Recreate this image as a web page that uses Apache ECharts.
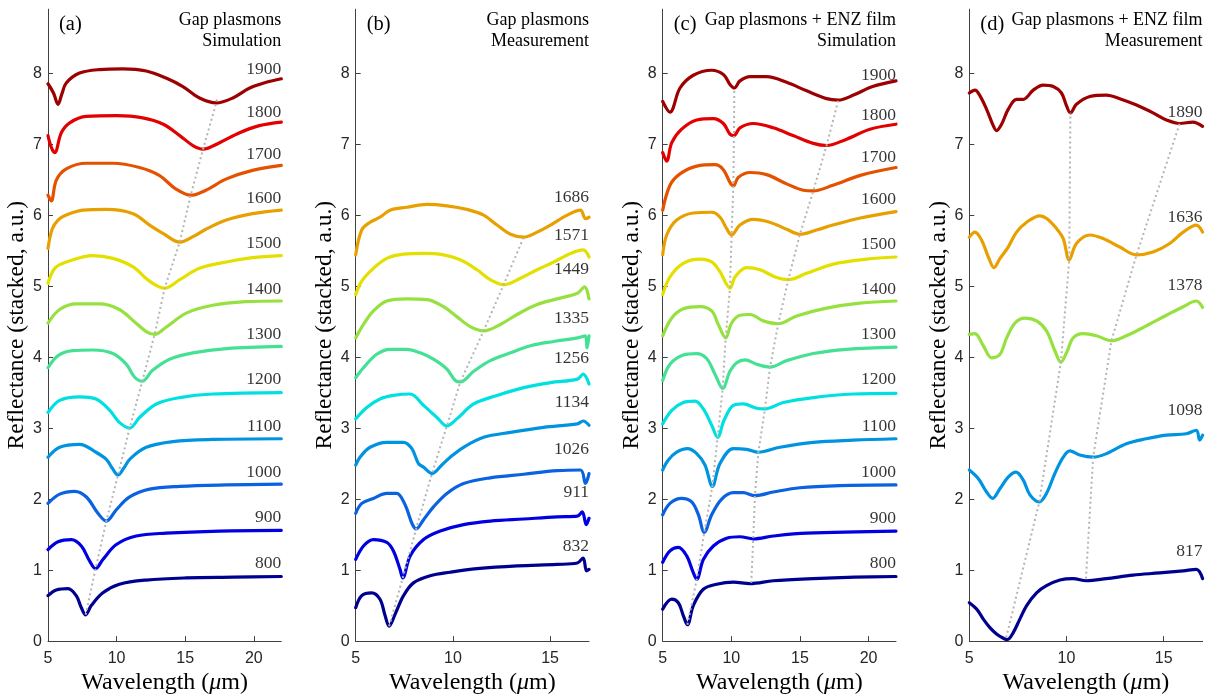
<!DOCTYPE html>
<html>
<head>
<meta charset="utf-8">
<script src="https://cdn.jsdelivr.net/npm/echarts@6.0.0/dist/echarts.min.js"></script>
<style>
  html, body { margin: 0; background: #fff; }
  #chart { width: 1211px; height: 700px; }
</style>
</head>
<body>
<div id="chart"></div>
<script>
// tick values
const yTicks = [0, 1, 2, 3, 4, 5, 6, 7, 8];
const xTicksWide = [5, 10, 15, 20];
const xTicksNarrow = [5, 10, 15];

// colour per row (800 ... 1900)
const rowColors = ['#000090', '#0000e0', '#0a62e0', '#0094e0', '#00e0e0', '#44e094',
  '#96e040', '#e3e000', '#e8a000', '#e45200', '#e30000', '#9c0000'];

// (a) gap plasmons, simulation
const a800 = [[5,0.64],[5.6,0.72],[6.46,0.74],[7.06,0.64],[7.43,0.47],[7.74,0.37],[8.15,0.5],[9.0,0.68],[10.2,0.8],[12.16,0.86],[15.07,0.89],[18.5,0.9],[22,0.91]];
const a900 = [[5,1.29],[5.73,1.4],[6.7,1.43],[7.43,1.34],[8.03,1.13],[8.47,1.02],[9.0,1.15],[9.98,1.36],[11.43,1.48],[13.6,1.52],[17.5,1.55],[22,1.56]];
const a1000 = [[5,1.94],[5.85,2.07],[6.94,2.11],[7.8,2.03],[8.64,1.8],[9.25,1.69],[9.98,1.85],[10.95,2.03],[12.4,2.14],[14.6,2.18],[18,2.2],[22,2.21]];
const a1100 = [[5,2.59],[5.85,2.73],[7.3,2.77],[8.5,2.66],[9.25,2.56],[9.7,2.43],[10.1,2.34],[10.5,2.43],[11.0,2.57],[12.16,2.73],[14.1,2.81],[17,2.84],[22,2.85]];
const a1200 = [[5,3.22],[5.85,3.39],[7.3,3.44],[8.5,3.41],[9.5,3.25],[10.2,3.08],[10.95,3.0],[11.67,3.15],[12.9,3.34],[14.6,3.43],[17,3.48],[22,3.5]];
const a1300 = [[5,3.85],[5.73,4.02],[6.8,4.09],[8.28,4.1],[9.73,4.05],[10.7,3.9],[11.3,3.72],[11.87,3.66],[12.6,3.81],[13.86,3.97],[15.56,4.06],[18,4.12],[22,4.15]];
const a1400 = [[5,4.48],[5.85,4.67],[7.06,4.75],[8.76,4.75],[10.2,4.67],[11.4,4.48],[12.16,4.36],[12.77,4.32],[13.6,4.42],[15.07,4.62],[17,4.73],[19.4,4.78],[22,4.79]];
const a1500 = [[5,5.04],[5.49,5.25],[6.33,5.34],[8.28,5.43],[9.73,5.39],[11.2,5.27],[12.4,5.07],[13.5,4.97],[14.6,5.09],[16.04,5.25],[18,5.34],[19.9,5.4],[22,5.43]];
const a1600 = [[5,5.53],[5.3,5.8],[5.73,5.93],[6.33,6.0],[7.55,6.07],[9.25,6.08],[11.2,6.02],[12.4,5.86],[13.4,5.74],[14.6,5.62],[15.6,5.7],[16.5,5.8],[18,5.93],[19.9,6.02],[22,6.07]];
const a1700 = [[5,6.28],[5.24,6.2],[5.6,6.49],[6.33,6.65],[7.8,6.73],[9.73,6.73],[11.67,6.67],[13.1,6.56],[14.3,6.37],[15.4,6.28],[16.5,6.35],[18,6.51],[19.9,6.63],[22,6.7]];
const a1800 = [[5,7.12],[5.25,6.95],[5.49,6.88],[5.97,7.16],[6.58,7.3],[7.8,7.39],[10,7.4],[11.9,7.37],[13.4,7.28],[14.6,7.12],[15.56,6.98],[16.3,6.93],[17.5,7.02],[18.96,7.16],[20.4,7.26],[22,7.31]];
const a1900 = [[5,7.85],[5.4,7.72],[5.73,7.56],[6.0,7.7],[6.33,7.86],[7.3,8.0],[8.76,8.05],[10.46,8.06],[12.16,8.03],[13.6,7.93],[14.83,7.81],[16.04,7.65],[17.26,7.58],[18.47,7.65],[19.7,7.79],[20.9,7.87],[22,7.92]];
const dotA = [[7.74,0.37],[8.47,1.02],[9.25,1.69],[10.1,2.34],[10.95,3.0],[11.87,3.66],[12.77,4.32],[13.5,4.97],[14.6,5.62],[15.4,6.28],[16.3,6.93],[17.26,7.58],[17.35,7.67]];
const labA = ['800','900','1000','1100','1200','1300','1400','1500','1600','1700','1800','1900'];
const labYA = [1.09,1.74,2.38,3.03,3.68,4.32,4.96,5.6,6.23,6.85,7.45,8.05];

// (b) gap plasmons, measurement
const b832 = [[5,0.47],[5.31,0.64],[5.82,0.68],[6.25,0.59],[6.51,0.36],[6.72,0.21],[7.03,0.38],[7.46,0.64],[7.97,0.82],[8.83,0.92],[9.86,0.97],[11.24,1.02],[13.3,1.06],[15.36,1.08],[16.4,1.1],[16.7,1.17],[16.87,0.99],[17,1.01]];
const b911 = [[5,1.15],[5.4,1.34],[5.91,1.43],[6.6,1.39],[6.94,1.27],[7.28,1.01],[7.42,0.89],[7.8,1.2],[8.49,1.43],[9.35,1.55],[10.55,1.64],[11.92,1.69],[13.64,1.72],[15.36,1.75],[16.4,1.76],[16.65,1.82],[16.86,1.64],[17,1.73]];
const b1026 = [[5,1.8],[5.31,1.94],[5.91,2.01],[6.6,2.08],[7.11,2.08],[7.54,1.92],[7.89,1.66],[8.11,1.58],[8.49,1.71],[9.0,1.89],[9.69,2.08],[10.55,2.22],[11.92,2.3],[13.64,2.35],[15.36,2.4],[16.56,2.41],[16.82,2.22],[17,2.36]];
const b1134 = [[5,2.48],[5.22,2.59],[5.74,2.73],[6.6,2.8],[7.46,2.8],[7.89,2.71],[8.23,2.5],[8.49,2.45],[8.92,2.36],[9.43,2.48],[9.86,2.59],[10.55,2.73],[11.58,2.87],[12.96,2.94],[14.67,3.01],[16.4,3.06],[16.7,3.1],[17,3.04]];
const b1256 = [[5,3.13],[5.57,3.29],[6.25,3.41],[6.94,3.46],[7.8,3.48],[8.49,3.32],[9.18,3.15],[9.69,3.03],[10.2,3.13],[11.07,3.34],[12.27,3.46],[13.64,3.57],[15.02,3.64],[16.4,3.69],[16.7,3.76],[17,3.62]];
const b1335 = [[5,3.71],[5.4,3.85],[6.08,4.04],[6.77,4.11],[7.63,4.11],[8.32,4.06],[9.0,3.97],[9.69,3.83],[10.12,3.67],[10.38,3.65],[11.07,3.8],[11.92,3.95],[12.96,4.06],[13.99,4.16],[15.19,4.22],[16.4,4.27],[16.8,4.3],[16.9,4.13],[17,4.3]];
const b1449 = [[5,4.27],[5.4,4.46],[5.91,4.65],[6.6,4.79],[7.63,4.82],[8.66,4.81],[9.52,4.71],[10.2,4.57],[10.89,4.43],[11.58,4.37],[12.44,4.46],[13.3,4.6],[14.33,4.74],[15.36,4.82],[16.4,4.9],[16.77,4.99],[17,4.82]];
const b1571 = [[5,4.88],[5.31,5.07],[5.91,5.25],[6.6,5.39],[7.46,5.45],[8.49,5.46],[9.52,5.44],[10.38,5.37],[11.24,5.23],[11.92,5.09],[12.61,5.02],[13.47,5.11],[14.33,5.23],[15.19,5.34],[16.05,5.46],[16.7,5.51],[17,5.41]];
const b1686 = [[5,5.44],[5.31,5.79],[5.74,5.9],[6.25,5.97],[6.77,6.07],[7.63,6.11],[8.66,6.15],[9.69,6.13],[10.72,6.08],[11.58,6.0],[12.27,5.86],[12.96,5.73],[13.64,5.69],[14.33,5.76],[15.02,5.86],[15.88,6.0],[16.56,6.07],[16.82,5.95],[17,5.97]];
const dotB = [[6.72,0.21],[7.42,0.89],[8.11,1.58],[8.92,2.36],[9.69,3.03],[10.38,3.65],[11.58,4.37],[12.61,5.02],[13.64,5.69]];
const labB = ['832','911','1026','1134','1256','1335','1449','1571','1686'];
const labYB = [1.34,2.1,2.7,3.36,3.98,4.54,5.23,5.72,6.25];

// (c) gap plasmons + ENZ film, simulation
const c800 = [[5,0.45],[5.66,0.59],[6.14,0.54],[6.5,0.36],[6.8,0.23],[7.23,0.5],[7.96,0.73],[8.93,0.8],[10.15,0.83],[11.36,0.81],[13.06,0.85],[15.97,0.88],[19,0.9],[22,0.91]];
const c900 = [[5,1.11],[5.53,1.27],[6.14,1.32],[6.75,1.2],[7.18,0.99],[7.48,0.87],[7.96,1.15],[8.69,1.34],[9.66,1.45],[10.63,1.47],[11.6,1.44],[13.06,1.48],[15.49,1.52],[22,1.55]];
const c1000 = [[5,1.78],[5.53,1.94],[6.38,2.01],[7.11,1.96],[7.6,1.78],[8.03,1.53],[8.57,1.78],[9.3,2.0],[10.15,2.09],[10.87,2.09],[11.72,2.05],[13.06,2.1],[15,2.16],[17.9,2.19],[22,2.2]];
const c1100 = [[5,2.41],[5.41,2.55],[6.02,2.66],[6.8,2.71],[7.48,2.64],[8.08,2.48],[8.62,2.18],[9.17,2.5],[10.15,2.71],[11.12,2.7],[11.97,2.66],[13.54,2.73],[15.97,2.8],[18.88,2.83],[22,2.85]];
const c1200 = [[5,3.06],[5.66,3.25],[6.5,3.36],[7.35,3.38],[7.96,3.27],[8.57,3.04],[9.0,2.87],[9.47,3.11],[10.15,3.32],[10.87,3.34],[11.84,3.28],[12.45,3.27],[13.79,3.36],[15.97,3.43],[18.88,3.48],[22,3.49]];
const c1300 = [[5,3.67],[5.53,3.9],[6.5,4.03],[7.48,4.05],[8.2,3.98],[8.81,3.76],[9.37,3.56],[9.9,3.8],[10.39,3.92],[11.0,3.96],[11.84,3.9],[12.82,3.86],[14.03,3.95],[15.97,4.05],[18.4,4.11],[22,4.14]];
const c1400 = [[5,4.3],[5.66,4.55],[6.5,4.68],[7.72,4.71],[8.57,4.65],[9.05,4.46],[9.59,4.27],[10.02,4.48],[10.63,4.59],[11.36,4.6],[12.33,4.51],[13.42,4.47],[14.76,4.58],[16.94,4.69],[19.37,4.76],[22,4.79]];
const c1500 = [[5,4.88],[5.53,5.13],[6.5,5.32],[7.72,5.38],[8.57,5.34],[9.18,5.2],[9.61,5.04],[9.9,4.97],[10.27,5.13],[11.12,5.26],[12.09,5.23],[13.3,5.12],[14.15,5.09],[15.49,5.18],[17.43,5.31],[19.85,5.38],[22,5.41]];
const c1600 = [[5,5.44],[5.29,5.72],[6.02,5.93],[7.23,6.03],[8.57,6.04],[9.18,5.97],[9.66,5.81],[10.02,5.72],[10.63,5.86],[11.6,5.94],[12.8,5.9],[14.03,5.8],[15.0,5.73],[16.2,5.79],[17.4,5.86],[19.4,5.96],[22,6.05]];
const c1700 = [[5,6.07],[5.53,6.42],[6.26,6.58],[7.48,6.69],[8.81,6.71],[9.42,6.64],[9.9,6.46],[10.15,6.41],[10.5,6.53],[11.36,6.6],[12.57,6.57],[14.03,6.44],[15.24,6.35],[15.97,6.34],[17.4,6.42],[19.4,6.56],[22,6.67]];
const c1800 = [[5,6.88],[5.29,6.76],[5.66,7.02],[6.38,7.21],[7.48,7.34],[8.69,7.36],[9.42,7.29],[9.9,7.14],[10.19,7.12],[10.63,7.23],[11.6,7.29],[13.06,7.23],[14.5,7.12],[15.97,7.01],[16.94,6.98],[18.4,7.07],[20.1,7.21],[22,7.28]];
const c1900 = [[5,7.6],[5.53,7.45],[6.26,7.79],[7.23,7.97],[8.57,8.04],[9.42,7.98],[9.9,7.84],[10.22,7.79],[10.63,7.89],[11.36,7.95],[12.57,7.95],[14.03,7.87],[15.49,7.75],[16.94,7.64],[17.8,7.62],[18.9,7.69],[20.3,7.81],[22,7.89]];
const dotC1 = [[6.8,0.23],[7.48,0.87],[8.03,1.53],[8.62,2.18],[9.0,2.87],[9.37,3.56],[9.59,4.27],[9.9,4.97],[10.02,5.72],[10.15,6.41],[10.19,7.12],[10.22,7.79]];
const dotC2 = [[11.45,0.82],[11.6,1.44],[11.72,2.05],[11.97,2.66],[12.45,3.27],[12.82,3.86],[13.42,4.47],[14.15,5.09],[15.0,5.73],[15.97,6.34],[16.94,6.98],[17.8,7.62]];
const labC = labA;
const labYC = [1.09,1.73,2.38,3.03,3.68,4.32,4.95,5.59,6.22,6.81,7.4,7.97];

// (d) gap plasmons + ENZ film, measurement
const d817 = [[5,0.54],[5.38,0.45],[5.72,0.31],[6.06,0.19],[6.4,0.1],[6.75,0.04],[6.95,0.02],[7.26,0.12],[7.6,0.31],[7.95,0.5],[8.46,0.68],[8.97,0.78],[9.66,0.86],[10.34,0.88],[11.03,0.85],[12.05,0.88],[13.42,0.93],[14.79,0.96],[16,0.99],[16.68,1.01],[17,0.88]];
const d1098 = [[5,2.41],[5.46,2.29],[5.89,2.1],[6.2,2.01],[6.58,2.15],[7.0,2.31],[7.4,2.38],[7.77,2.27],[8.12,2.06],[8.6,1.96],[8.97,2.08],[9.4,2.36],[9.83,2.59],[10.17,2.68],[10.68,2.62],[11.37,2.59],[12.05,2.64],[13.08,2.78],[14.1,2.85],[15.14,2.9],[16.16,2.92],[16.68,2.97],[16.85,2.83],[17,2.9]];
const d1378 = [[5,4.32],[5.29,4.33],[5.72,4.16],[6.15,3.99],[6.58,4.04],[6.92,4.27],[7.35,4.48],[7.86,4.55],[8.46,4.51],[8.97,4.37],[9.4,4.09],[9.71,3.93],[10.0,4.06],[10.34,4.27],[10.86,4.33],[11.54,4.3],[12.31,4.23],[13.08,4.3],[14.1,4.44],[15.14,4.59],[16.0,4.71],[16.68,4.79],[17,4.7]];
const d1636 = [[5,5.69],[5.29,5.76],[5.63,5.65],[5.98,5.41],[6.27,5.26],[6.58,5.39],[7.0,5.55],[7.43,5.76],[7.95,5.9],[8.63,5.99],[9.0,5.95],[9.49,5.81],[9.83,5.67],[10.14,5.37],[10.51,5.6],[11.2,5.72],[11.88,5.67],[12.74,5.55],[13.6,5.44],[14.45,5.48],[15.31,5.6],[16.0,5.76],[16.68,5.86],[17,5.76]];
const d1890 = [[5,7.72],[5.29,7.76],[5.55,7.68],[5.89,7.49],[6.23,7.26],[6.4,7.19],[6.66,7.28],[7.0,7.49],[7.43,7.63],[7.77,7.63],[8.29,7.76],[8.8,7.83],[9.32,7.81],[9.74,7.72],[10.0,7.54],[10.2,7.44],[10.51,7.56],[11.2,7.67],[12.05,7.69],[12.74,7.64],[13.6,7.55],[14.45,7.44],[15.14,7.34],[15.82,7.29],[16.5,7.31],[17,7.25]];
const dotD1 = [[6.9,0.05],[8.6,1.96],[9.71,3.93],[10.14,5.37],[10.2,7.44]];
const dotD2 = [[11.0,0.88],[11.37,2.59],[12.31,4.23],[13.6,5.44],[15.82,7.29]];
const labD = ['817','1098','1378','1636','1890'];
const labYD = [1.27,3.25,5.01,5.97,7.44];

const panels = [
  { curves: [a800,a900,a1000,a1100,a1200,a1300,a1400,a1500,a1600,a1700,a1800,a1900], rows: [0,1,2,3,4,5,6,7,8,9,10,11], labels: labA, labelY: labYA, dots: [dotA], xMax: 22, xTicks: xTicksWide, left: 48, tag: '(a)', note: ['Gap plasmons', 'Simulation'] },
  { curves: [b832,b911,b1026,b1134,b1256,b1335,b1449,b1571,b1686], rows: [0,1,2,3,4,5,6,7,8], labels: labB, labelY: labYB, dots: [dotB], xMax: 17, xTicks: xTicksNarrow, left: 355.7, tag: '(b)', note: ['Gap plasmons', 'Measurement'] },
  { curves: [c800,c900,c1000,c1100,c1200,c1300,c1400,c1500,c1600,c1700,c1800,c1900], rows: [0,1,2,3,4,5,6,7,8,9,10,11], labels: labC, labelY: labYC, dots: [dotC1, dotC2], xMax: 22, xTicks: xTicksWide, left: 662.7, tag: '(c)', note: ['Gap plasmons + ENZ film', 'Simulation'] },
  { curves: [d817,d1098,d1378,d1636,d1890], rows: [0,3,6,8,11], labels: labD, labelY: labYD, dots: [dotD1, dotD2], xMax: 17, xTicks: xTicksNarrow, left: 969.3, tag: '(d)', note: ['Gap plasmons + ENZ film', 'Measurement'] }
];

const plotW = 233.3;
const serif = '"Liberation Serif", "Times New Roman", serif';
const sans = '"Liberation Sans", Arial, sans-serif';
const axisColor = '#404040';

const grid = [], xAxis = [], yAxis = [], series = [], graphic = [];

panels.forEach((p, i) => {
  grid.push({ left: p.left, top: 9.2, width: plotW, height: 636.3 });
  xAxis.push({
    type: 'value', gridIndex: i, min: 5, max: p.xMax, interval: 5,
    name: 'Wavelength ({i|μ}m)', nameLocation: 'middle', nameGap: 27,
    nameTextStyle: { fontFamily: serif, fontSize: 24, color: '#000', rich: { i: { fontFamily: serif, fontSize: 24, fontStyle: 'italic', color: '#000' } } },
    axisLine: { lineStyle: { color: axisColor, width: 1 } },
    axisTick: { inside: true, length: 5, lineStyle: { color: axisColor }, customValues: p.xTicks },
    axisLabel: { fontFamily: sans, fontSize: 16, color: '#262626', margin: 9, customValues: p.xTicks },
    splitLine: { show: false }
  });
  yAxis.push({
    type: 'value', gridIndex: i, min: 0, max: 8.9, interval: 1,
    name: 'Reflectance (stacked, a.u.)', nameLocation: 'middle', nameGap: 17, nameRotate: 90,
    nameTextStyle: { fontFamily: serif, fontSize: 23.5, color: '#000' },
    axisLine: { show: true, lineStyle: { color: axisColor, width: 1 } },
    axisTick: { show: true, inside: true, length: 5, lineStyle: { color: axisColor }, customValues: yTicks },
    axisLabel: { fontFamily: sans, fontSize: 16, color: '#262626', margin: 6, customValues: yTicks },
    splitLine: { show: false }
  });

  p.curves.forEach((d, k) => {
    series.push({
      type: 'line', xAxisIndex: i, yAxisIndex: i, data: d,
      smooth: 0.35, symbol: 'none', silent: true, z: 2,
      lineStyle: { width: 3.2, color: rowColors[p.rows[k]], cap: 'round', join: 'round' }
    });
  });

  p.dots.forEach(d => {
    series.push({
      type: 'line', xAxisIndex: i, yAxisIndex: i, data: d,
      symbol: 'none', silent: true, z: 3,
      lineStyle: { width: 2, color: '#b4b4b4', type: [2, 3] }
    });
  });

  series.push({
    type: 'scatter', xAxisIndex: i, yAxisIndex: i, symbolSize: 0, silent: true, clip: false, z: 4,
    data: p.labelY.map((y, k) => [p.xMax, y, p.labels[k]]),
    label: { show: true, position: 'left', distance: 0, formatter: q => q.value[2], fontFamily: serif, fontSize: 17.5, color: '#000' }
  });

  graphic.push({
    type: 'text', left: p.left + 11, top: 14,
    style: { text: p.tag, fill: '#000', fontFamily: serif, fontSize: 20.5 }
  });
  p.note.forEach((line, k) => {
    graphic.push({
      type: 'text', right: 1211 - (p.left + plotW), top: 11 + k * 21,
      style: { text: line, fill: '#000', fontFamily: serif, fontSize: 18 }
    });
  });
});

const chart = echarts.init(document.getElementById('chart'));
chart.setOption({
  backgroundColor: '#fff',
  animation: false,
  grid: grid,
  xAxis: xAxis,
  yAxis: yAxis,
  series: series,
  graphic: graphic
});
</script>
</body>
</html>
